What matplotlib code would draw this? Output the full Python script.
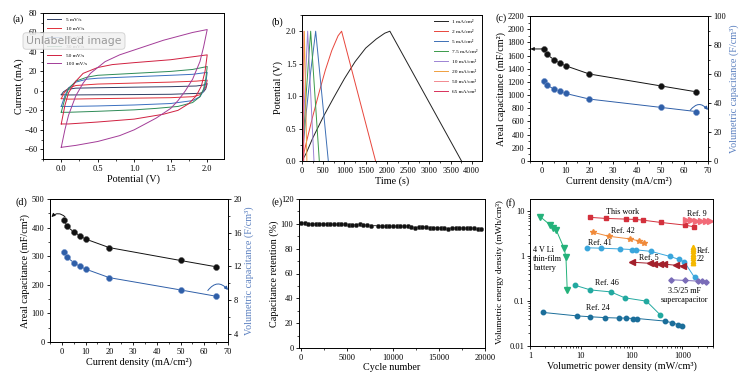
import matplotlib
matplotlib.use("Agg")
import matplotlib.pyplot as plt
from matplotlib.ticker import AutoMinorLocator, MultipleLocator, NullFormatter

plt.rcParams['font.family'] = ['Liberation Serif', 'DejaVu Serif']
plt.rcParams['font.size'] = 6
plt.rcParams['axes.linewidth'] = 0.7
for ax_ in ('x', 'y'):
    plt.rcParams[f'{ax_}tick.direction'] = 'out'
    plt.rcParams[f'{ax_}tick.major.size'] = 2.5
    plt.rcParams[f'{ax_}tick.minor.size'] = 1.3
    plt.rcParams[f'{ax_}tick.major.width'] = 0.6
    plt.rcParams[f'{ax_}tick.minor.width'] = 0.5
    plt.rcParams[f'{ax_}tick.major.pad'] = 1.5
    plt.rcParams[f'{ax_}tick.labelsize'] = 6.0

LABEL_FS = 7.3
BLUE_LABEL = '#5b80c0'

# ---------------- (a) CV curves: closed loops (potential V, current mA) ----------------
cv_labels = ['5 mV/s', '10 mV/s', '20 mV/s', '30 mV/s', '50 mV/s', '100 mV/s']
cv_colors = ['#2f3e63', '#e0303a', '#3a6fc0', '#2e8b57', '#d02040', '#a33c98']
cv_v_5 = [0, 0.03, 0.08, 0.2, 0.5, 1.0, 1.5, 1.85, 1.95, 2.0, 1.98, 1.95, 1.9, 1.5, 1.0, 0.5, 0.1, 0.02, 0]
cv_i_5 = [-4, -1, 1.5, 2.8, 3.2, 3.8, 4.3, 5, 6, 7.5, 2, -1, -2.5, -3.5, -3.8, -4, -4.2, -4, -4]
cv_v_10 = [0, 0.04, 0.1, 0.2, 0.5, 1.0, 1.5, 1.85, 2.0, 1.98, 1.95, 1.9, 1.8, 1.5, 1.0, 0.5, 0.1, 0]
cv_i_10 = [-8, -2, 3, 5.5, 7, 8, 9, 10, 11, 4, 0, -4, -6, -7, -7.5, -8, -8.5, -8]
cv_v_20 = [0, 0.05, 0.1, 0.2, 0.35, 0.5, 1.0, 1.5, 1.8, 2.0, 1.98, 1.95, 1.9, 1.8, 1.5, 1.0, 0.5, 0.1, 0]
cv_i_20 = [-16, -5, 3, 9, 12, 13, 14.5, 16, 17, 19, 8, 0, -6, -10, -13, -14.5, -15.5, -16, -16]
cv_v_30 = [0, 0.05, 0.1, 0.2, 0.35, 0.5, 1.0, 1.5, 1.8, 2.0, 1.98, 1.95, 1.9, 1.8, 1.6, 1.3, 1.0, 0.5, 0.1, 0]
cv_i_30 = [-22, -8, 2, 10, 14, 16, 18, 20, 22, 25, 12, 2, -6, -12, -16, -18, -19.5, -21, -22, -22]
cv_v_50 = [0, 0.05, 0.1, 0.2, 0.3, 0.5, 0.7, 1.0, 1.5, 1.8, 2.0, 1.97, 1.92, 1.85, 1.75, 1.6, 1.4, 1.0, 0.5, 0.1, 0]
cv_i_50 = [-34, -15, -2, 10, 18, 24, 27, 29, 32, 35, 37, 20, 5, -5, -13, -20, -24, -29, -32, -34, -34]
cv_v_100 = [0, 0.05, 0.1, 0.2, 0.3, 0.4, 0.6, 0.8, 1.0, 1.2, 1.4, 1.6, 1.8, 2.0,
            1.95, 1.9, 1.8, 1.7, 1.6, 1.5, 1.3, 1.0, 0.8, 0.5, 0.2, 0]
cv_i_100 = [-58, -40, -25, -5, 8, 18, 30, 37, 42, 47, 52, 56, 60, 63,
            45, 30, 12, 0, -10, -18, -28, -40, -46, -52, -56, -58]
cv_v = [cv_v_5, cv_v_10, cv_v_20, cv_v_30, cv_v_50, cv_v_100]
cv_i = [cv_i_5, cv_i_10, cv_i_20, cv_i_30, cv_i_50, cv_i_100]

# ---------------- (b) charge/discharge curves (time s, potential V) ----------------
gcd_labels = ['1 mA/cm²', '2 mA/cm²', '5 mA/cm²', '7.5 mA/cm²', '10 mA/cm²',
              '20 mA/cm²', '50 mA/cm²', '65 mA/cm²']
gcd_colors = ['#222222', '#e8463c', '#3d6fb5', '#3a9a4a', '#9c84d4', '#f0a040', '#f28a90', '#d8305a']
gcd_t = [
    [0, 100, 250, 500, 750, 1000, 1250, 1500, 1750, 1950, 2070, 3757],
    [0, 100, 250, 400, 550, 700, 850, 933, 1733],
    [0, 100, 200, 322, 620],
    [0, 100, 204, 408],
    [0, 60, 133, 282],
    [0, 55, 115],
    [0, 25, 45],
    [0, 15, 30],
]
gcd_v = [
    [0, 0.12, 0.35, 0.68, 0.98, 1.27, 1.53, 1.74, 1.88, 1.97, 2.0, 0],
    [0, 0.28, 0.68, 1.05, 1.4, 1.7, 1.93, 2.0, 0],
    [0, 0.75, 1.35, 2.0, 0],
    [0, 1.05, 2.0, 0],
    [0, 0.95, 2.0, 0],
    [0, 2.0, 0],
    [0, 2.0, 0],
    [0, 2.0, 0],
]

# ---------------- (c) / (d) rate capability ----------------
current_density = [1, 2, 5, 7.5, 10, 20, 50, 65]
areal_c = [1700, 1620, 1540, 1490, 1445, 1320, 1140, 1050]
volumetric_c = [55.0, 52.3, 49.8, 48.2, 46.6, 42.7, 37.0, 34.1]
areal_d = [425, 405, 385, 372, 360, 330, 285, 263]
volumetric_d = [13.7, 13.1, 12.45, 12.0, 11.67, 10.65, 9.19, 8.44]

# ---------------- (e) cycling ----------------
cycles = [0, 400, 800, 1200, 1600, 2000, 2400, 2800, 3200, 3600, 4000, 4400, 4800, 5200,
          5600, 6000, 6400, 6800, 7200, 7600, 8400, 8800, 9200, 9600, 10000, 10400, 10800,
          11200, 11600, 12000, 12400, 12800, 13200, 13600, 14000, 14400, 14800, 15200,
          15600, 16000, 16400, 16800, 17200, 17600, 18000, 18400, 18800, 19200, 19600]
retention = [100.8, 100.5, 100, 100, 100, 100, 100, 99.8, 99.5, 99.5, 99.5, 99.5, 99.5, 99.3,
             99.3, 99.0, 99.5, 99.0, 98.8, 98.5, 98.5, 98.5, 98.0, 98.0, 98.0, 98.0, 98.0,
             98.0, 98.0, 97.5, 96.5, 97.5, 97.5, 97.5, 97.0, 97.0, 97.0, 97.0,
             96.8, 95.5, 97.0, 96.8, 96.5, 96.5, 96.5, 96.5, 96.3, 96.0, 95.8]

# ---------------- (f) Ragone plot ----------------
this_work_p = [15, 32, 79, 119, 169, 375, 1110, 1660]
this_work_e = [7.4, 7.0, 6.76, 6.66, 6.4, 5.7, 4.98, 4.57]
ref9_p = [1200, 1500, 1880, 2360, 2870, 3440]
ref9_e = [6.4, 6.3, 6.2, 6.1, 6.1, 6.0]
ref42_p = [17.5, 35.7, 95, 141, 174]
ref42_e = [3.43, 2.8, 2.44, 2.2, 1.99]
ref41_p = [13, 25, 60, 100, 120, 240, 560, 870, 1090, 1730]
ref41_e = [1.55, 1.52, 1.46, 1.42, 1.40, 1.29, 1.0, 0.85, 0.75, 0.34]
ref5_p = [100, 225, 282, 355, 443, 752, 1047]
ref5_e = [0.74, 0.70, 0.69, 0.68, 0.67, 0.63, 0.61]
ref22_p = [1600, 1600, 1600, 1600, 1600, 1600, 1600, 1600]
ref22_e = [1.6, 1.45, 1.3, 1.15, 1.0, 0.9, 0.8, 0.72]
sc_p = [600, 1150, 2000, 2440, 2900]
sc_e = [0.30, 0.29, 0.28, 0.275, 0.27]
li_p = [1.6, 2.5, 2.8, 3.3, 4.7, 5.1, 5.4]
li_e = [7.6, 5.0, 4.3, 3.8, 1.5, 0.95, 0.18]
ref46_p = [7.7, 15.5, 39, 73, 196, 369]
ref46_e = [0.226, 0.178, 0.161, 0.119, 0.10, 0.049]
ref24_p = [1.83, 8.3, 15, 29.7, 56, 79, 107, 130, 448, 630, 815, 1000]
ref24_e = [0.056, 0.047, 0.045, 0.043, 0.042, 0.042, 0.041, 0.041, 0.036, 0.033, 0.030, 0.028]

W, H = 745, 379
fig = plt.figure(figsize=(W / 100, H / 100), dpi=100)


def box(l, t, r, b):
    # pixel box -> figure fraction
    return [l / W, 1 - b / H, (r - l) / W, (b - t) / H]


def panel_label(x, y, s):
    fig.text(x / W, 1 - y / H, s, fontsize=7.3, ha='left', va='center')


# (a)
ax = fig.add_axes(box(43, 13, 224, 159))
for v, i, c, lab in zip(cv_v, cv_i, cv_colors, cv_labels):
    ax.plot(v, i, color=c, lw=0.7, label=lab)
ax.set_xlim(-0.25, 2.23)
ax.set_ylim(-70, 80)
ax.xaxis.set_major_locator(MultipleLocator(0.5))
ax.yaxis.set_major_locator(MultipleLocator(20))
ax.xaxis.set_major_formatter('{x:.1f}')
ax.xaxis.set_minor_locator(AutoMinorLocator(2))
ax.yaxis.set_minor_locator(AutoMinorLocator(2))
ax.set_xlabel('Potential (V)', fontsize=LABEL_FS, labelpad=1)
ax.set_ylabel('Current (mA)', fontsize=LABEL_FS, labelpad=0)
ax.legend(loc='upper left', fontsize=3.9, frameon=False, handlelength=2.6,
          labelspacing=0.75, borderaxespad=0.4, bbox_to_anchor=(0.0, 1.0))
panel_label(12, 19, '(a)')

# overlay badge seen on the reference
fig.text(74 / W, 1 - 41 / H, 'Unlabelled image', fontsize=7.8, family='DejaVu Sans',
         color='#9a9a9a', ha='center', va='center',
         bbox=dict(boxstyle='round,pad=0.3', fc='#f2f2f2', ec='#c8c8c8', lw=0.6, alpha=0.85))

# (b)
ax = fig.add_axes(box(302, 15, 482, 161))
for t, v, c, lab in zip(gcd_t, gcd_v, gcd_colors, gcd_labels):
    ax.plot(t, v, color=c, lw=0.7, label=lab)
ax.set_xlim(0, 4240)
ax.set_ylim(0, 2.25)
ax.xaxis.set_major_locator(MultipleLocator(500))
ax.yaxis.set_major_locator(MultipleLocator(0.5))
ax.yaxis.set_major_formatter('{x:.1f}')
ax.xaxis.set_minor_locator(AutoMinorLocator(2))
ax.yaxis.set_minor_locator(AutoMinorLocator(2))
ax.set_xlabel('Time (s)', fontsize=LABEL_FS, labelpad=1)
ax.set_ylabel('Potential (V)', fontsize=LABEL_FS, labelpad=2)
ax.legend(loc='upper right', fontsize=3.9, frameon=False, handlelength=2.6,
          labelspacing=0.95, borderaxespad=0.4)
panel_label(272, 22, '(b)')


def rate_panel(rect, areal, vol, ylim_l, ylim_r, lstep, rstep, arrows, lbl_pos, lbl):
    ax = fig.add_axes(rect)
    ax2 = ax.twinx()
    ax.plot(current_density, areal, '-o', color='#111111', lw=0.7, ms=4.3,
            markerfacecolor='#111111', markeredgecolor='#555555', markeredgewidth=0.4)
    ax2.plot(current_density, vol, '-o', color='#2f5fa8', lw=0.7, ms=4.3,
             markerfacecolor='#2f5fa8', markeredgecolor='#6f90c8', markeredgewidth=0.4)
    ax.set_xlim(-5, 70)
    ax.set_ylim(*ylim_l)
    ax2.set_ylim(*ylim_r)
    ax.xaxis.set_major_locator(MultipleLocator(10))
    ax.yaxis.set_major_locator(MultipleLocator(lstep))
    ax2.yaxis.set_major_locator(MultipleLocator(rstep))
    ax.xaxis.set_minor_locator(AutoMinorLocator(2))
    ax.yaxis.set_minor_locator(AutoMinorLocator(2))
    ax2.yaxis.set_minor_locator(AutoMinorLocator(2))
    ax.set_xlabel('Current density (mA/cm²)', fontsize=LABEL_FS, labelpad=1)
    ax.set_ylabel('Areal capacitance (mF/cm²)', fontsize=LABEL_FS, labelpad=1)
    ax2.set_ylabel('Volumetric capacitance (F/cm³)', fontsize=LABEL_FS, color=BLUE_LABEL, labelpad=2)
    for (xy, xyt, rad, col) in arrows:
        ax.annotate('', xy=xy, xytext=xyt,
                    arrowprops=dict(arrowstyle='-|>', color=col, lw=0.7, mutation_scale=5,
                                    connectionstyle=f'arc3,rad={rad}', shrinkA=0, shrinkB=0))
    panel_label(*lbl_pos, lbl)
    return ax, ax2


# (c)
rate_panel(box(530, 16, 708, 161), areal_c, volumetric_c, (0, 2200), (0, 100), 200, 20,
           [((-4.8, 1700), (0.3, 1700), 0, '#111111'),
            ((70, 775), (62.5, 770), -0.6, '#2f5fa8')],
           (496, 18), '(c)')

# (d)
ax_d, ax_d2 = rate_panel(box(50, 199, 228, 342), areal_d, volumetric_d, (0, 500), (3, 20), 100, 4,
                         [((-4.4, 437), (1.3, 438), 0.45, '#111111'),
                          ((70, 182), (61.5, 180), -0.6, '#2f5fa8')],
                         (16, 202), '(d)')
ax_d2.set_yticks([4, 8, 12, 16, 20])

# (e)
ax = fig.add_axes(box(299, 199, 485, 348))
ax.plot(cycles, retention, '-o', color='#111111', lw=0.6, ms=3.2,
        markerfacecolor='#111111', markeredgecolor='#555555', markeredgewidth=0.3)
ax.set_xlim(-200, 20000)
ax.set_ylim(0, 120)
ax.xaxis.set_major_locator(MultipleLocator(5000))
ax.yaxis.set_major_locator(MultipleLocator(20))
ax.xaxis.set_minor_locator(AutoMinorLocator(2))
ax.yaxis.set_minor_locator(AutoMinorLocator(2))
ax.set_xlabel('Cycle number', fontsize=LABEL_FS, labelpad=1)
ax.set_ylabel('Capacitance retention (%)', fontsize=LABEL_FS, labelpad=1)
panel_label(271, 202, '(e)')

# (f)
ax = fig.add_axes(box(530, 199, 713, 346))
ax.set_xscale('log')
ax.set_yscale('log')
ms = 3.2
ax.plot(this_work_p, this_work_e, '-s', color='#d3303c', lw=0.7, ms=ms)
ax.plot(ref9_p, ref9_e, '->', color='#f26b78', lw=0.7, ms=ms + 0.5)
ax.plot(ref42_p, ref42_e, '-*', color='#f08a3a', lw=0.7, ms=ms + 1)
ax.plot(ref41_p, ref41_e, '-o', color='#3aa6dc', lw=0.7, ms=ms)
ax.plot(ref5_p, ref5_e, '-<', color='#a3202c', lw=0.7, ms=ms + 0.5)
ax.plot(ref22_p, ref22_e, '^', color='#f5b800', ms=ms)
ax.plot(sc_p, sc_e, '-D', color='#7a6cb8', lw=0.7, ms=ms - 0.5)
ax.plot(li_p, li_e, '-v', color='#24b27a', lw=0.7, ms=ms + 0.5)
ax.plot(ref46_p, ref46_e, '-o', color='#22a9a0', lw=0.7, ms=ms)
ax.plot(ref24_p, ref24_e, '-o', color='#1b6e9a', lw=0.7, ms=ms)
ax.set_xlim(1, 4000)
ax.set_ylim(0.01, 19)
ax.xaxis.set_minor_formatter(NullFormatter())
ax.yaxis.set_minor_formatter(NullFormatter())
ax.set_xticks([1, 10, 100, 1000], ['1', '10', '100', '1000'])
ax.set_yticks([0.01, 0.1, 1, 10], ['0.01', '0.1', '1', '10'])
ax.set_xlabel('Volumetric power density (mW/cm³)', fontsize=LABEL_FS, labelpad=1)
ax.set_ylabel('Volumetric energy density (mWh/cm³)', fontsize=LABEL_FS - 0.6, labelpad=4)
fs = 5.9
ax.text(65, 9.7, 'This work', fontsize=fs, ha='center', va='center')
ax.text(1880, 9.0, 'Ref. 9', fontsize=fs, ha='center', va='center')
ax.text(68, 3.6, 'Ref. 42', fontsize=fs, ha='center', va='center')
ax.text(23.7, 2.0, 'Ref. 41', fontsize=fs, ha='center', va='center')
ax.text(221, 0.93, 'Ref. 5', fontsize=fs, ha='center', va='center')
ax.text(1940, 1.08, 'Ref.\n22', fontsize=fs, ha='left', va='center', linespacing=1.1)
ax.text(1.16, 0.88, '4 V Li\nthin-film\nbattery', fontsize=fs, ha='left', va='center',
        linespacing=1.15)
ax.text(32, 0.26, 'Ref. 46', fontsize=fs, ha='center', va='center')
ax.text(1110, 0.135, '3.5/25 mF\nsupercapacitor', fontsize=fs, ha='center', va='center',
        linespacing=1.1)
ax.text(22, 0.072, 'Ref. 24', fontsize=fs, ha='center', va='center')
panel_label(506, 203, '(f)')

fig.savefig('out.png', dpi=100)
